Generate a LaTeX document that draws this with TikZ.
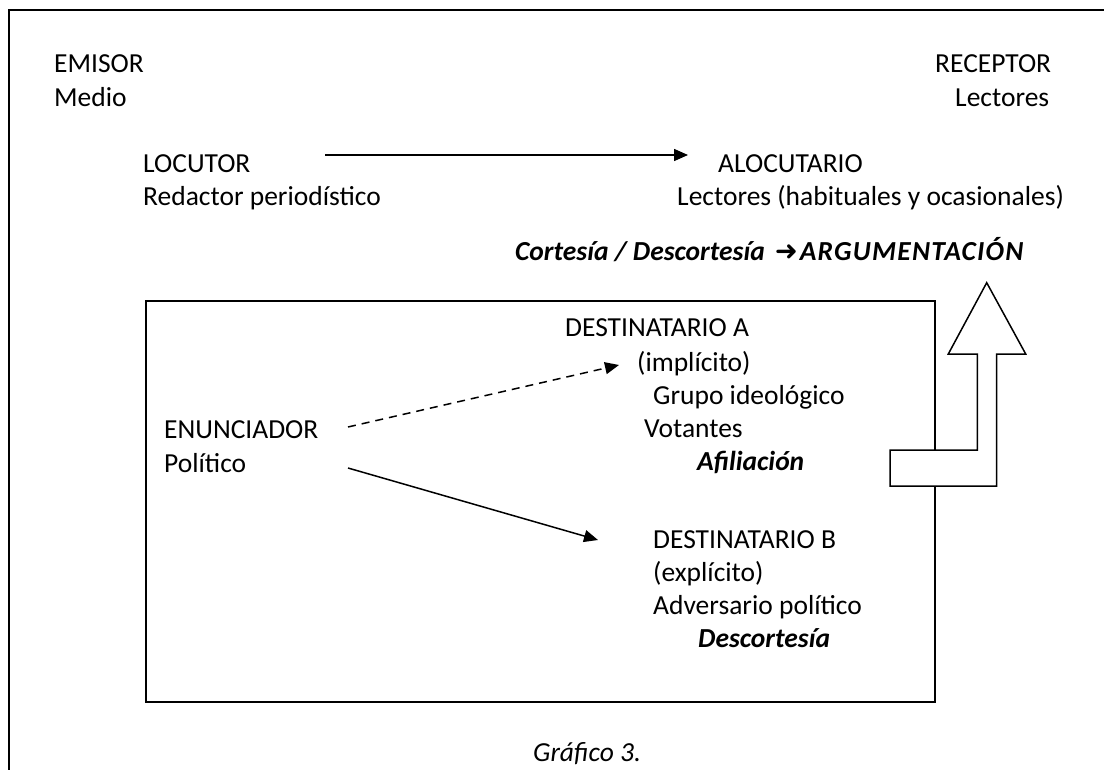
\documentclass[tikz,border=0pt]{standalone}
\usepackage{fontspec}
\setmainfont{Carlito}
\newfontfamily\arrowfont{DejaVu Sans}
\usetikzlibrary{arrows.meta}
\begin{document}
\begin{tikzpicture}[x=1pt,y=-1pt,
  txt/.style={inner sep=0pt,anchor=base west,font=\fontsize{27.5}{33}\selectfont},
  bi/.style={txt,font=\fontsize{27.5}{33}\selectfont\bfseries\itshape},
  it/.style={txt,font=\fontsize{27.5}{33}\selectfont\itshape},
  conn/.style={line width=1.5pt,-{Triangle[length=14pt,width=12pt]}},
  frame/.style={line width=2pt}]
\useasboundingbox (0,0) rectangle (1104,770);
% outer frame (top and left visible)
\draw[frame] (9,770) -- (9,10) -- (1104,10);
% top row
\node[txt] (emisor) at (54,73) {EMISOR};
\node[txt] (medio) at (54,107) {Medio};
\node[txt] (receptor) at (935,73) {RECEPTOR};
\node[txt] (lectores) at (955,107) {Lectores};
\node[txt] (locutor) at (143,173) {LOCUTOR};
\node[txt] (redactor) at (143,206) {Redactor periodístico};
\node[txt] (alocutario) at (718,173) {ALOCUTARIO};
\node[txt] (lectoresb) at (677,206) {Lectores (habituales y ocasionales)};
\node[bi] (cortesia) at (515,261) {Cortesía / Descortesía\hspace{10pt}{\arrowfont\bfseries ➜}\hspace{2pt}{\addfontfeatures{LetterSpace=4.5}ARGUMENTACIÓN}};
\coordinate (t1) at (325,155);
\coordinate (t2) at (688,155);
\draw[conn] (t1) -- (t2);
% inner box
\draw[frame] (146,301) rectangle (935,702);
\node[txt] (enun) at (164,438) {ENUNCIADOR};
\node[txt] (polit) at (164,472) {Político};
\node[txt] (desta) at (565,337) {DESTINATARIO A};
\node[txt] (impl) at (637,371) {(implícito)};
\node[txt] (grupo) at (653,404) {Grupo ideológico};
\node[txt] (vot) at (644,437) {Votantes};
\node[bi] (afil) at (697,470) {Afiliación};
\node[txt] (destb) at (653,548) {DESTINATARIO B};
\node[txt] (expl) at (653,581) {(explícito)};
\node[txt] (adv) at (653,614) {Adversario político};
\node[bi] (desc) at (698,647) {Descortesía};
\coordinate (d1) at (348,427);
\coordinate (d2) at (619,365);
\coordinate (s1) at (348,468);
\coordinate (s2) at (598,540);
\draw[conn,dash pattern=on 8pt off 6pt] (d1) -- (d2);
\draw[conn] (s1) -- (s2);
% big bent arrow
\draw[line width=1.5pt,fill=white,line join=miter] (890,450) -- (977.3,450) -- (977.3,354) -- (948.3,354) -- (986.7,282.7) -- (1025.7,354) -- (996.7,354) -- (996.7,486) -- (890,486) -- cycle;
\node[it] (graf) at (533,761) {Gráfico 3.};
\end{tikzpicture}
\end{document}
